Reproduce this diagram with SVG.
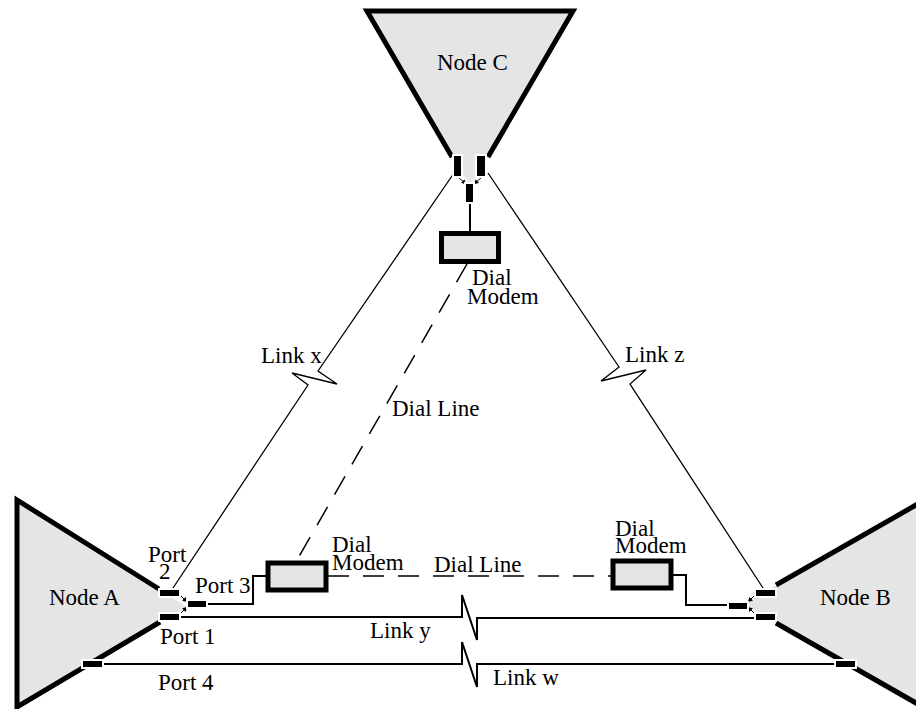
<svg xmlns="http://www.w3.org/2000/svg" width="916" height="709" viewBox="0 0 916 709">
<defs>
<style>
.fill{fill:#e5e5e5;stroke:none}
.edge{fill:none;stroke:#000;stroke-width:5;stroke-linejoin:miter}
.port{fill:#000;stroke:#fff;stroke-width:2}
.modem{fill:#e5e5e5;stroke:#000;stroke-width:5}
.link{fill:none;stroke:#000;stroke-width:1.3;stroke-linejoin:miter}
.hlink{fill:none;stroke:#000;stroke-width:2;stroke-linejoin:miter}
.dial{fill:none;stroke:#000;stroke-width:1.5;stroke-dasharray:21 14}
.arr{fill:none;stroke:#000;stroke-width:1;marker-end:url(#ah)}
text{font-family:"Liberation Serif","Times New Roman",serif;font-size:23px;fill:#000}
</style>
<marker id="ah" viewBox="0 0 10 10" refX="9" refY="5" markerWidth="5" markerHeight="5" orient="auto" markerUnits="userSpaceOnUse">
<path d="M0,0 L10,5 L0,10 z" fill="#000"/>
</marker>
</defs>

<g id="nodeC">
<polygon class="fill" points="367,11 573,11 470,186"/>
<polyline class="edge" points="452,157 367,11 573,11 488,157"/>
<text x="437" y="70">Node C</text>
</g>

<g id="nodeA">
<polygon class="fill" points="17,500 187,607 17,707"/>
<polyline class="edge" points="159,589 17,500 17,707 160,622"/>
<text x="49" y="605">Node A</text>
</g>

<g id="nodeB">
<polygon class="fill" points="930,497 743,604 930,711"/>
<polyline class="edge" points="776,585 930,497"/>
<polyline class="edge" points="776,623 930,711"/>
<text x="820" y="605">Node B</text>
</g>

<g id="connectors">
<polyline class="link" points="454,173 318,371 337,384 292,373 308,385 173,588"/>
<polyline class="link" points="488,173 619,367 601,381 646,370 630,384 763,588"/>
<polyline class="hlink" points="180,617 462,617 462,595 477,640 477,618 755,618"/>
<polyline class="hlink" points="103,664 462,664 462,642 477,687 477,664 835,664"/>
<polyline class="hlink" points="207,604 253,604 253,576 266,576"/>
<polyline class="hlink" points="673,575 686,575 686,605 728,605"/>
<line class="hlink" x1="470" y1="203" x2="470" y2="231"/>
<line class="dial" x1="328" y1="576" x2="611" y2="576"/>
<line class="dial" x1="467" y1="264" x2="297" y2="560"/>
<line class="arr" x1="458" y1="177" x2="466" y2="184"/>
<line class="arr" x1="482" y1="177" x2="474" y2="184"/>
<line class="arr" x1="180" y1="595" x2="187" y2="602"/>
<line class="arr" x1="180" y1="614" x2="187" y2="607"/>
<line class="arr" x1="755" y1="595" x2="748" y2="602"/>
<line class="arr" x1="755" y1="614" x2="748" y2="607"/>
</g>

<g id="portsC">
<rect class="port" x="453" y="155" width="9" height="22"/>
<rect class="port" x="476" y="155" width="10" height="22"/>
<rect class="port" x="465" y="183" width="9" height="20"/>
</g>

<g id="portsA">
<rect class="port" x="159" y="589" width="21" height="8"/>
<rect class="port" x="159" y="613" width="21" height="8"/>
<rect class="port" x="187" y="600" width="20" height="8"/>
<rect class="port" x="82" y="660" width="21" height="8"/>
<text x="148" y="562">Port</text>
<text x="159" y="579">2</text>
<text x="195" y="593">Port 3</text>
<text x="160" y="644">Port 1</text>
<text x="158" y="690">Port 4</text>
</g>

<g id="portsB">
<rect class="port" x="755" y="589" width="21" height="8"/>
<rect class="port" x="755" y="613" width="21" height="8"/>
<rect class="port" x="728" y="602" width="20" height="8"/>
<rect class="port" x="835" y="660" width="21" height="8"/>
</g>

<g id="modemC">
<rect class="modem" x="441.5" y="233.5" width="57" height="28"/>
<text x="472" y="285">Dial</text>
<text x="467" y="304">Modem</text>
</g>

<g id="modemA">
<rect class="modem" x="268" y="563" width="58" height="27"/>
<text x="332" y="552">Dial</text>
<text x="332" y="570">Modem</text>
</g>

<g id="modemB">
<rect class="modem" x="613" y="561" width="58" height="27"/>
<text x="615" y="536">Dial</text>
<text x="615" y="553">Modem</text>
</g>

<g id="labels">
<text x="261" y="363">Link x</text>
<text x="625" y="362">Link z</text>
<text x="392" y="416">Dial Line</text>
<text x="434" y="572">Dial Line</text>
<text x="370" y="638">Link y</text>
<text x="493" y="685">Link w</text>
</g>
</svg>
